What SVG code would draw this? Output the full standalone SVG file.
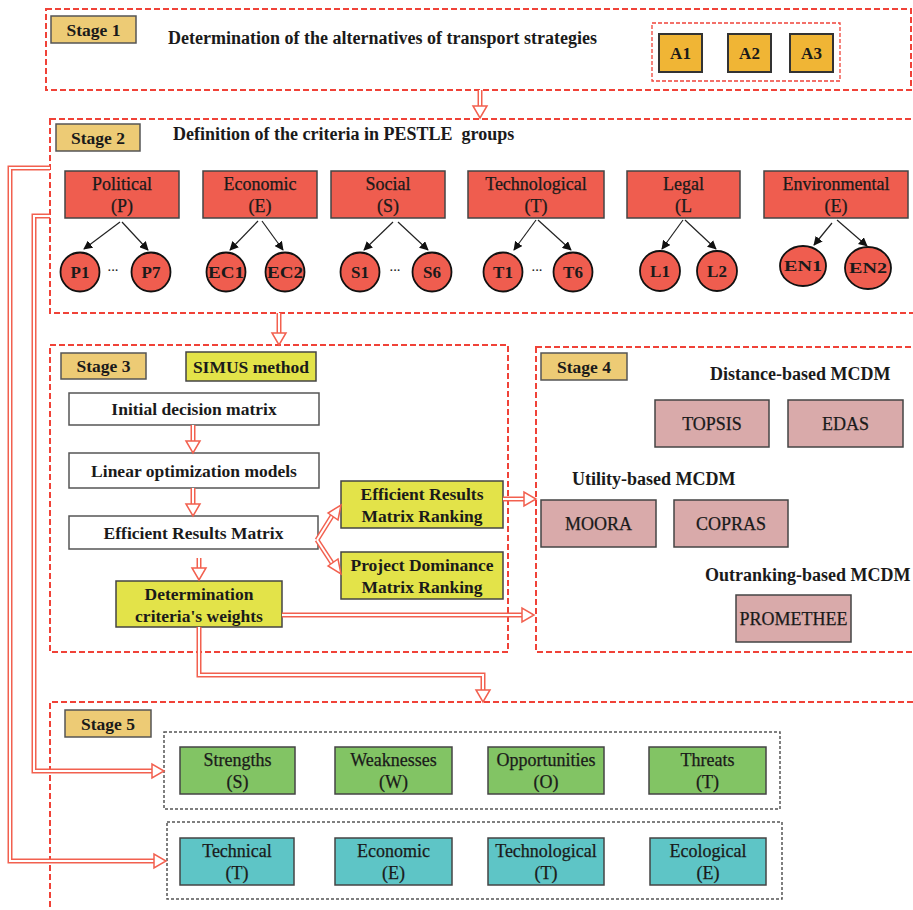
<svg xmlns="http://www.w3.org/2000/svg" xmlns:xlink="http://www.w3.org/1999/xlink" width="913" height="910" viewBox="0 0 913 910">
  <style>
    text { font-family: "Liberation Serif", "DejaVu Serif", serif; fill: #1a1a1a; }
    .stage-frame { fill: none; stroke: #F04238; stroke-width: 2; stroke-dasharray: 6 3; }
    .group-frame { fill: none; stroke: #F04238; stroke-width: 1.3; stroke-dasharray: 4 2; }
    .set-frame { fill: none; stroke: #555; stroke-width: 1.5; stroke-dasharray: 3 2; }
    .stage-tag { fill: #EDCB75; stroke: #555; stroke-width: 1.5; }
    .tag-text { font-size: 17.5px; font-weight: bold; text-anchor: middle; }
    .title { font-size: 18px; font-weight: bold; }
    .alt { fill: #F0B535; stroke: #333; stroke-width: 2; }
    .pestle { fill: #EF5D4F; stroke: #444; stroke-width: 1.5; }
    .crit { fill: #EF5D4F; stroke: #111; stroke-width: 1.8; }
    .step { fill: #fff; stroke: #555; stroke-width: 1.5; }
    .hl { fill: #E3E349; stroke: #444; stroke-width: 1.5; }
    .mcdm { fill: #D9AAAA; stroke: #444; stroke-width: 1.5; }
    .swot { fill: #82C464; stroke: #444; stroke-width: 1.5; }
    .teeb { fill: #5EC5C6; stroke: #444; stroke-width: 1.5; }
    .lbl { font-size: 18px; text-anchor: middle; stroke: #1a1a1a; stroke-width: 0.25; }
    .lbl-b { font-size: 17.5px; font-weight: bold; text-anchor: middle; }
    .cl { font-size: 17px; font-weight: bold; text-anchor: middle; }
    .pipe-out { fill: none; stroke: #F2604F; stroke-width: 5; }
    .pipe-in { fill: none; stroke: #fff; stroke-width: 2; }
    .head { fill: #fff; stroke: #F2604F; stroke-width: 1.5; stroke-linejoin: miter; }
    .tree { stroke: #222; stroke-width: 1.2; fill: none; marker-end: url(#tip); }
  </style>
  <defs>
    <marker id="tip" viewBox="0 0 10 10" refX="9" refY="5" markerWidth="9" markerHeight="9" markerUnits="userSpaceOnUse" orient="auto">
      <path d="M0 0 L10 5 L0 10 Z" fill="#111"/>
    </marker>
    <polygon id="head-down" points="-7,-12 7,-12 0,0"/>
    <polygon id="head-right" points="-12,-7 -12,7 0,0"/>
    <!-- routes of the double-line flow connectors -->
    <path id="f1" d="M480 90 V107"/>
    <path id="f2" d="M279 313 V334"/>
    <path id="f3" d="M193 425 V442"/>
    <path id="f4" d="M193 488 V505"/>
    <path id="f5" d="M199 558 V569"/>
    <path id="f6" d="M317 540 L332 516"/>
    <path id="f7" d="M317 540 L332 563"/>
    <path id="f8" d="M503 499 H525"/>
    <path id="f9" d="M282 615 H523"/>
    <path id="f10" d="M199 627 V675 H483 V691"/>
    <path id="f11" d="M50 168 H10 V861 H155"/>
    <path id="f12" d="M50 216 H34 V771 H153"/>
  </defs>

  <!-- Stage 1 -->
  <g id="stage1">
    <rect class="stage-frame" x="46" y="9" width="865" height="81"/>
    <rect class="stage-tag" x="51" y="16" width="85" height="27"/>
    <text class="tag-text" x="93.5" y="36">Stage 1</text>
    <text class="title" x="168" y="44">Determination of the alternatives of transport strategies</text>
  </g>
  <g id="alternatives">
    <rect class="group-frame" x="652" y="23" width="188" height="58"/>
    <g id="A1"><rect class="alt" x="659" y="34" width="43" height="38"/><text class="cl" x="680.5" y="59">A1</text></g>
    <g id="A2"><rect class="alt" x="728" y="34" width="43" height="38"/><text class="cl" x="749.5" y="59">A2</text></g>
    <g id="A3"><rect class="alt" x="790" y="34" width="43" height="38"/><text class="cl" x="811.5" y="59">A3</text></g>
  </g>

  <!-- Stage 2 -->
  <g id="stage2">
    <rect class="stage-frame" x="50" y="119" width="880" height="194"/>
    <rect class="stage-tag" x="56" y="124" width="84" height="27"/>
    <text class="tag-text" x="98" y="144">Stage 2</text>
    <text class="title" x="173" y="140" xml:space="preserve">Definition of the criteria in PESTLE  groups</text>
  </g>
  <g id="political"><rect class="pestle" x="65" y="171" width="114" height="47"/><text class="lbl" x="122" y="190">Political</text><text class="lbl" x="122" y="212">(P)</text></g>
  <g id="economic"><rect class="pestle" x="203" y="171" width="114" height="47"/><text class="lbl" x="260" y="190">Economic</text><text class="lbl" x="260" y="212">(E)</text></g>
  <g id="social"><rect class="pestle" x="331" y="171" width="114" height="47"/><text class="lbl" x="388" y="190">Social</text><text class="lbl" x="388" y="212">(S)</text></g>
  <g id="technological"><rect class="pestle" x="468" y="171" width="136" height="47"/><text class="lbl" x="536" y="190">Technological</text><text class="lbl" x="536" y="212">(T)</text></g>
  <g id="legal"><rect class="pestle" x="627" y="171" width="113" height="47"/><text class="lbl" x="683.5" y="190">Legal</text><text class="lbl" x="683.5" y="212">(L</text></g>
  <g id="environmental"><rect class="pestle" x="764" y="171" width="144" height="47"/><text class="lbl" x="836" y="190">Environmental</text><text class="lbl" x="836" y="212">(E)</text></g>

  <g id="P1"><circle class="crit" cx="80" cy="272" r="19.5"/><text class="cl" x="80" y="278">P1</text></g>
  <g id="P7"><circle class="crit" cx="151" cy="272" r="19.5"/><text class="cl" x="151" y="278">P7</text></g>
  <g id="EC1"><circle class="crit" cx="226" cy="272" r="19.5"/><text class="cl" x="226" y="278" textLength="36" lengthAdjust="spacingAndGlyphs">EC1</text></g>
  <g id="EC2"><circle class="crit" cx="285" cy="272" r="19.5"/><text class="cl" x="285" y="278" textLength="36" lengthAdjust="spacingAndGlyphs">EC2</text></g>
  <g id="S1"><circle class="crit" cx="360" cy="272" r="19.5"/><text class="cl" x="360" y="278">S1</text></g>
  <g id="S6"><circle class="crit" cx="432" cy="272" r="19.5"/><text class="cl" x="432" y="278">S6</text></g>
  <g id="T1"><circle class="crit" cx="503" cy="272" r="19.5"/><text class="cl" x="503" y="278">T1</text></g>
  <g id="T6"><circle class="crit" cx="573" cy="272" r="19.5"/><text class="cl" x="573" y="278">T6</text></g>
  <g id="L1"><circle class="crit" cx="660" cy="271" r="20"/><text class="cl" x="660" y="277">L1</text></g>
  <g id="L2"><circle class="crit" cx="717" cy="271" r="20"/><text class="cl" x="717" y="277">L2</text></g>
  <g id="EN1"><ellipse class="crit" cx="803" cy="266" rx="23" ry="20"/><text class="cl" x="803" y="271" style="font-size:14px" textLength="38" lengthAdjust="spacingAndGlyphs">EN1</text></g>
  <g id="EN2"><ellipse class="crit" cx="868" cy="268" rx="23" ry="21"/><text class="cl" x="868" y="273" style="font-size:14px" textLength="38" lengthAdjust="spacingAndGlyphs">EN2</text></g>
  <g id="ellipses">
    <text class="cl" x="113" y="274" style="font-size:11px">···</text>
    <text class="cl" x="395" y="274" style="font-size:11px">···</text>
    <text class="cl" x="537" y="274" style="font-size:11px">···</text>
  </g>

  <!-- Stage 3 -->
  <g id="stage3">
    <rect class="stage-frame" x="50" y="345" width="458" height="307"/>
    <rect class="stage-tag" x="61" y="353" width="85" height="26"/>
    <text class="tag-text" x="103.5" y="372">Stage 3</text>
  </g>
  <g id="simus"><rect class="hl" x="186" y="352" width="130" height="29"/><text class="lbl-b" x="251" y="373">SIMUS method</text></g>
  <g id="initial-matrix"><rect class="step" x="69" y="393" width="250" height="32"/><text class="lbl-b" x="194" y="415">Initial decision matrix</text></g>
  <g id="linear-models"><rect class="step" x="69" y="453" width="250" height="35"/><text class="lbl-b" x="194" y="477">Linear optimization models</text></g>
  <g id="efficient-matrix"><rect class="step" x="69" y="516" width="249" height="33"/><text class="lbl-b" x="193.5" y="539">Efficient Results Matrix</text></g>
  <g id="weights"><rect class="hl" x="116" y="581" width="166" height="46"/><text class="lbl-b" x="199" y="600">Determination</text><text class="lbl-b" x="199" y="622">criteria's weights</text></g>
  <g id="erm-ranking"><rect class="hl" x="341" y="481" width="162" height="47"/><text class="lbl-b" x="422" y="500">Efficient Results</text><text class="lbl-b" x="422" y="522">Matrix Ranking</text></g>
  <g id="pdm-ranking"><rect class="hl" x="341" y="552" width="162" height="47"/><text class="lbl-b" x="422" y="571">Project Dominance</text><text class="lbl-b" x="422" y="593">Matrix Ranking</text></g>

  <!-- Stage 4 -->
  <g id="stage4">
    <rect class="stage-frame" x="536" y="347" width="400" height="305"/>
    <rect class="stage-tag" x="541" y="353" width="86" height="27"/>
    <text class="tag-text" x="584" y="373">Stage 4</text>
    <text class="title" x="710" y="380">Distance-based MCDM</text>
    <text class="title" x="572" y="485">Utility-based MCDM</text>
    <text class="title" x="705" y="581">Outranking-based MCDM</text>
  </g>
  <g id="topsis"><rect class="mcdm" x="655" y="400" width="114" height="47"/><text class="lbl" x="712" y="430">TOPSIS</text></g>
  <g id="edas"><rect class="mcdm" x="788" y="400" width="115" height="47"/><text class="lbl" x="845.5" y="430">EDAS</text></g>
  <g id="moora"><rect class="mcdm" x="541" y="500" width="115" height="47"/><text class="lbl" x="598.5" y="530">MOORA</text></g>
  <g id="copras"><rect class="mcdm" x="674" y="500" width="114" height="47"/><text class="lbl" x="731" y="530">COPRAS</text></g>
  <g id="promethee"><rect class="mcdm" x="736" y="595" width="115" height="47"/><text class="lbl" x="793.5" y="625">PROMETHEE</text></g>

  <!-- Stage 5 -->
  <g id="stage5">
    <path class="stage-frame" d="M940 702 H50 V920"/>
    <rect class="stage-tag" x="65" y="710" width="86" height="27"/>
    <text class="tag-text" x="108" y="730">Stage 5</text>
  </g>
  <g id="swot">
    <rect class="set-frame" x="164" y="732" width="616" height="77"/>
    <g id="strengths"><rect class="swot" x="180" y="747" width="115" height="47"/><text class="lbl" x="237.5" y="766">Strengths</text><text class="lbl" x="237.5" y="788">(S)</text></g>
    <g id="weaknesses"><rect class="swot" x="335" y="747" width="117" height="47"/><text class="lbl" x="393.5" y="766">Weaknesses</text><text class="lbl" x="393.5" y="788">(W)</text></g>
    <g id="opportunities"><rect class="swot" x="488" y="747" width="116" height="47"/><text class="lbl" x="546" y="766">Opportunities</text><text class="lbl" x="546" y="788">(O)</text></g>
    <g id="threats"><rect class="swot" x="649" y="747" width="117" height="47"/><text class="lbl" x="707.5" y="766">Threats</text><text class="lbl" x="707.5" y="788">(T)</text></g>
  </g>
  <g id="teeb">
    <rect class="set-frame" x="167" y="822" width="615" height="77"/>
    <g id="technical"><rect class="teeb" x="180" y="838" width="114" height="47"/><text class="lbl" x="237" y="857">Technical</text><text class="lbl" x="237" y="879">(T)</text></g>
    <g id="economic2"><rect class="teeb" x="335" y="838" width="117" height="47"/><text class="lbl" x="393.5" y="857">Economic</text><text class="lbl" x="393.5" y="879">(E)</text></g>
    <g id="technological2"><rect class="teeb" x="488" y="838" width="116" height="47"/><text class="lbl" x="546" y="857">Technological</text><text class="lbl" x="546" y="879">(T)</text></g>
    <g id="ecological"><rect class="teeb" x="650" y="838" width="116" height="47"/><text class="lbl" x="708" y="857">Ecological</text><text class="lbl" x="708" y="879">(E)</text></g>
  </g>

  <!-- Connectors -->
  <g id="connectors">
    <!-- criteria tree arrows -->
    <path class="tree" d="M120 222 L84 249"/>
    <path class="tree" d="M122 222 L148 250"/>
    <path class="tree" d="M258 221 L230 250"/>
    <path class="tree" d="M262 221 L283 250"/>
    <path class="tree" d="M393 222 L364 250"/>
    <path class="tree" d="M398 222 L428 250"/>
    <path class="tree" d="M536 220 L514 250"/>
    <path class="tree" d="M538 220 L571 250"/>
    <path class="tree" d="M683 220 L662 249"/>
    <path class="tree" d="M685 220 L716 249"/>
    <path class="tree" d="M832 223 L814 245"/>
    <path class="tree" d="M837 220 L867 246"/>

    <!-- hollow double-line flow arrows -->
    <g class="pipe-out">
      <use xlink:href="#f1"/><use xlink:href="#f2"/><use xlink:href="#f3"/><use xlink:href="#f4"/>
      <use xlink:href="#f5"/><use xlink:href="#f6"/><use xlink:href="#f7"/><use xlink:href="#f8"/>
      <use xlink:href="#f9"/><use xlink:href="#f10"/><use xlink:href="#f11"/><use xlink:href="#f12"/>
    </g>
    <g class="pipe-in">
      <use xlink:href="#f1"/><use xlink:href="#f2"/><use xlink:href="#f3"/><use xlink:href="#f4"/>
      <use xlink:href="#f5"/><use xlink:href="#f6"/><use xlink:href="#f7"/><use xlink:href="#f8"/>
      <use xlink:href="#f9"/><use xlink:href="#f10"/><use xlink:href="#f11"/><use xlink:href="#f12"/>
    </g>
    <g class="head">
      <use xlink:href="#head-down" x="480" y="118"/>
      <use xlink:href="#head-down" x="279" y="345"/>
      <use xlink:href="#head-down" x="193" y="453"/>
      <use xlink:href="#head-down" x="193" y="516"/>
      <use xlink:href="#head-down" x="199" y="580"/>
      <use xlink:href="#head-down" x="483" y="702"/>
      <use xlink:href="#head-right" x="536" y="499"/>
      <use xlink:href="#head-right" x="534" y="615"/>
      <use xlink:href="#head-right" x="166" y="861"/>
      <use xlink:href="#head-right" x="164" y="771"/>
      <polygon points="328,513 338,520 341,505"/>
      <polygon points="328,566 338,559 341,574"/>
    </g>
  </g>
</svg>
